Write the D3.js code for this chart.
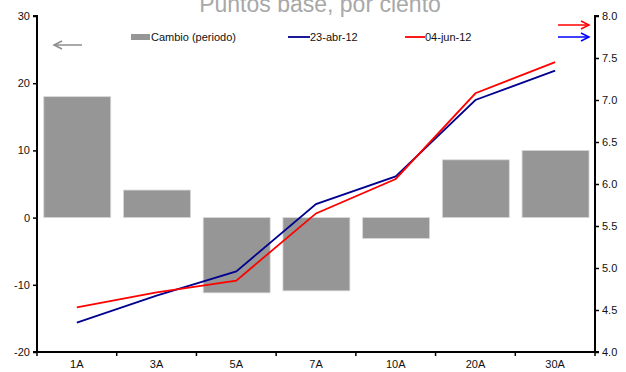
<!DOCTYPE html>
<html><head><meta charset="utf-8">
<script src="https://cdn.jsdelivr.net/npm/d3@7"></script>
<style>body{margin:0;background:#fff}svg{display:block;font-family:"Liberation Sans",Arial,sans-serif}</style>
</head><body><div id="c"></div>
<script>
const categories = ["1A","3A","5A","7A","10A","20A","30A"];
const cambio = [18, 4.1, -11.2, -10.9, -3.1, 8.6, 10.0];
const abr23 = [4.35, 4.67, 4.96, 5.76, 6.09, 7.00, 7.35];
const jun04 = [4.53, 4.71, 4.85, 5.65, 6.06, 7.08, 7.45];
const leftTicks = [-20, -10, 0, 10, 20, 30];
const rightTicks = [4.0, 4.5, 5.0, 5.5, 6.0, 6.5, 7.0, 7.5, 8.0];

const W = 626, H = 372;
const m = {l: 37, r: 31, t: 16, b: 20};
const svg = d3.select("#c").append("svg").attr("width", W).attr("height", H);

const xb = d3.scaleBand().domain(categories).range([m.l, W - m.r]);
const yL = d3.scaleLinear().domain([-20, 30]).range([H - m.b, m.t]);
const yR = d3.scaleLinear().domain([4, 8]).range([H - m.b, m.t]);

// title (partly cut at the top edge, as in the reference)
svg.append("text").attr("x", 320).attr("y", 12).attr("text-anchor", "middle")
  .attr("font-size", 23).attr("fill", "#a8a8a8").text("Puntos base, por ciento");

// bars
svg.selectAll("rect.bar").data(categories).join("rect").attr("class", "bar")
  .attr("x", d => xb(d) + xb.bandwidth() * 0.085)
  .attr("width", xb.bandwidth() * 0.84)
  .attr("y", (d, i) => yL(Math.max(0, cambio[i])))
  .attr("height", (d, i) => Math.abs(yL(cambio[i]) - yL(0)))
  .attr("fill", "#969696").attr("stroke", "#d8d8d8").attr("stroke-width", 0.8);

// lines
const cx = d => xb(d) + xb.bandwidth() / 2;
const line = arr => d3.line().x((d, i) => cx(categories[i])).y(d => yR(d))(arr);
svg.append("path").attr("d", line(abr23)).attr("fill", "none").attr("stroke", "#000090").attr("stroke-width", 1.8);
svg.append("path").attr("d", line(jun04)).attr("fill", "none").attr("stroke", "#ff0000").attr("stroke-width", 1.8);

// axes
const gL = svg.append("g").attr("transform", `translate(${m.l},0)`)
  .call(d3.axisLeft(yL).tickValues(leftTicks).tickSize(4).tickPadding(3).tickFormat(d => String(d)));
const gR = svg.append("g").attr("transform", `translate(${W - m.r},0)`)
  .call(d3.axisRight(yR).tickValues(rightTicks).tickSize(4).tickPadding(3).tickFormat(d => d.toFixed(1)));
const gX = svg.append("g").attr("transform", `translate(0,${H - m.b})`)
  .call(d3.axisBottom(xb).tickSize(0).tickPadding(8));
[gL, gR, gX].forEach(g => {
  g.select(".domain").attr("stroke", "#000").attr("stroke-width", 2);
  g.selectAll(".tick line").attr("stroke", "#000").attr("stroke-width", 1.5);
  g.selectAll("text").attr("font-size", 11).attr("fill", "#111").attr("font-family", "Liberation Sans, Arial, sans-serif");
});
gL.select(".domain").attr("d", `M-4,${yL(30)}H0V${yL(-20)}H-4`);
gR.select(".domain").attr("d", `M4,${yR(8)}H0V${yR(4)}H4`);
gX.select(".domain").attr("d", `M${m.l},0H${W - m.r}`);
const bounds = categories.map(c => xb(c)).concat([W - m.r]);
gX.selectAll("line.bt").data(bounds).join("line").attr("class", "bt")
  .attr("x1", d => d).attr("x2", d => d).attr("y1", 0).attr("y2", 4)
  .attr("stroke", "#000").attr("stroke-width", 1.5);

// legend
const lg = svg.append("g").attr("font-size", 11).attr("fill", "#111");
lg.append("rect").attr("x", 131).attr("y", 34).attr("width", 19).attr("height", 6).attr("fill", "#969696");
lg.append("text").attr("x", 151).attr("y", 41).text("Cambio (periodo)");
lg.append("line").attr("x1", 288).attr("x2", 310).attr("y1", 37).attr("y2", 37).attr("stroke", "#000090").attr("stroke-width", 1.8);
lg.append("text").attr("x", 310).attr("y", 41).text("23-abr-12");
lg.append("line").attr("x1", 405).attr("x2", 425).attr("y1", 37).attr("y2", 37).attr("stroke", "#ff0000").attr("stroke-width", 1.8);
lg.append("text").attr("x", 425).attr("y", 41).text("04-jun-12");

// arrows
function arrow(x1, x2, y, color, dir) {
  const g = svg.append("g").attr("stroke", color).attr("stroke-width", 1.5).attr("fill", "none");
  g.append("line").attr("x1", x1).attr("x2", x2).attr("y1", y).attr("y2", y);
  const tip = dir > 0 ? x2 : x1;
  g.append("path").attr("d", `M${tip - dir * 8},${y - 4}L${tip},${y}L${tip - dir * 8},${y + 4}`);
}
arrow(54, 82, 45, "#8c8c8c", -1);
arrow(558, 589, 25, "#ff0000", 1);
arrow(558, 589, 37, "#0000ff", 1);
</script></body></html>
